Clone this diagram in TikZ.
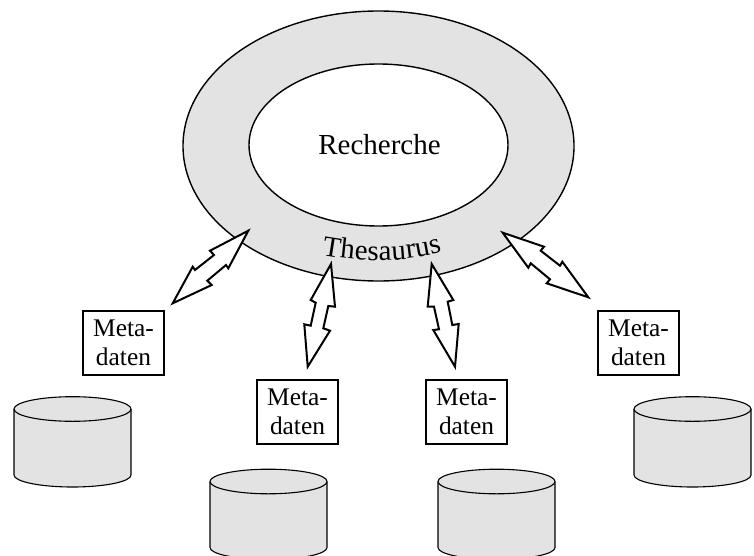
\documentclass[tikz,border=0pt]{standalone}
\usepackage{fontspec}
\setmainfont{Liberation Serif}
\usetikzlibrary{decorations.text,shapes.geometric}
\newcommand{\bigface}{\fontsize{29}{31}\selectfont}
\newcommand{\boxface}{\fontsize{25.4}{29}\selectfont}
\definecolor{ringgray}{HTML}{E3E3E3}
\tikzset{
  ring/.style={ellipse,draw=black,line width=1.4pt,inner sep=0pt,outer sep=0pt},
  metabox/.style={draw=black,line width=2pt,fill=white,minimum width=81pt,minimum height=64pt,inner sep=0pt,align=center,font=\boxface},
  zigzag/.style={draw=black,line width=2pt,fill=white,miter limit=10},
  dbbody/.style={draw=black,line width=1.1pt,fill=ringgray},
  pics/dbcyl/.style={code={
    \draw[dbbody] (0,0) -- (0,66) arc[start angle=180,end angle=0,x radius=58.5,y radius=12] -- (117,0);
    \draw[dbbody] (58.5,0) ellipse[x radius=58.5,y radius=12.3];
  }}
}
\begin{document}
\begin{tikzpicture}[x=1pt,y=-1pt]
\useasboundingbox (0,0) rectangle (754,556);
% ring
\node[ring,fill=ringgray,minimum width=391pt,minimum height=270pt] (outer) at (378.5,146) {};
\node[ring,fill=white,minimum width=259pt,minimum height=162pt] (inner) at (378.5,145) {};
\node[anchor=base,font=\bigface,inner sep=0pt] (recherche) at (379.5,155) {Recherche};
\path[decorate,decoration={text along path,text align={fit to path},text={|\bigface|Thesaurus}}]
  (322,255) .. controls (360,262) and (402,263) .. (442,252);
% boxes
\node[metabox] (m1) at (123.5,343) {Meta-\\daten};
\node[metabox] (m2) at (297.5,412) {Meta-\\daten};
\node[metabox] (m3) at (466.5,412) {Meta-\\daten};
\node[metabox] (m4) at (638.5,343) {Meta-\\daten};
% cylinders
\pic (d1) at (14,409) {dbcyl};
\pic (d2) at (210,481.5) {dbcyl};
\pic (d3) at (438,481.5) {dbcyl};
\pic (d4) at (634,409) {dbcyl};
% arrow tips
\coordinate (a1) at (248.3,230.7);
\coordinate (b1) at (172.7,303.3);
\coordinate (a2) at (331,264);
\coordinate (b2) at (307.7,366.7);
\coordinate (a3) at (431.7,264);
\coordinate (b3) at (455,366.7);
\coordinate (a4) at (502.7,232.7);
\coordinate (b4) at (588.3,297.3);
% double arrows
\draw[zigzag] (a1) -- (210,250.7) -- (214,255) -- (195,270) -- (192.7,266.7) -- (b1) -- (211.7,285) -- (207.3,280.7) -- (226,265) -- (228.3,268.3) -- cycle;
\draw[zigzag] (a2) -- (310.7,300) -- (315.7,302.7) -- (310.7,325.7) -- (304.3,324.3) -- (b2) -- (330,330.7) -- (323.3,328.3) -- (328.3,306) -- (335,306.7) -- cycle;
\draw[zigzag] (a3) -- (427.7,306.7) -- (434,306.7) -- (439,329.3) -- (433.3,330) -- (b3) -- (458.7,324) -- (452.3,325) -- (447.7,301.7) -- (453.3,300) -- cycle;
\draw[zigzag] (a4) -- (528.3,267.7) -- (530.7,263.3) -- (550,279.3) -- (546.7,283.3) -- (b4) -- (562.3,261.7) -- (560,265.7) -- (540.7,250.7) -- (544,246.7) -- cycle;
\end{tikzpicture}
\end{document}
